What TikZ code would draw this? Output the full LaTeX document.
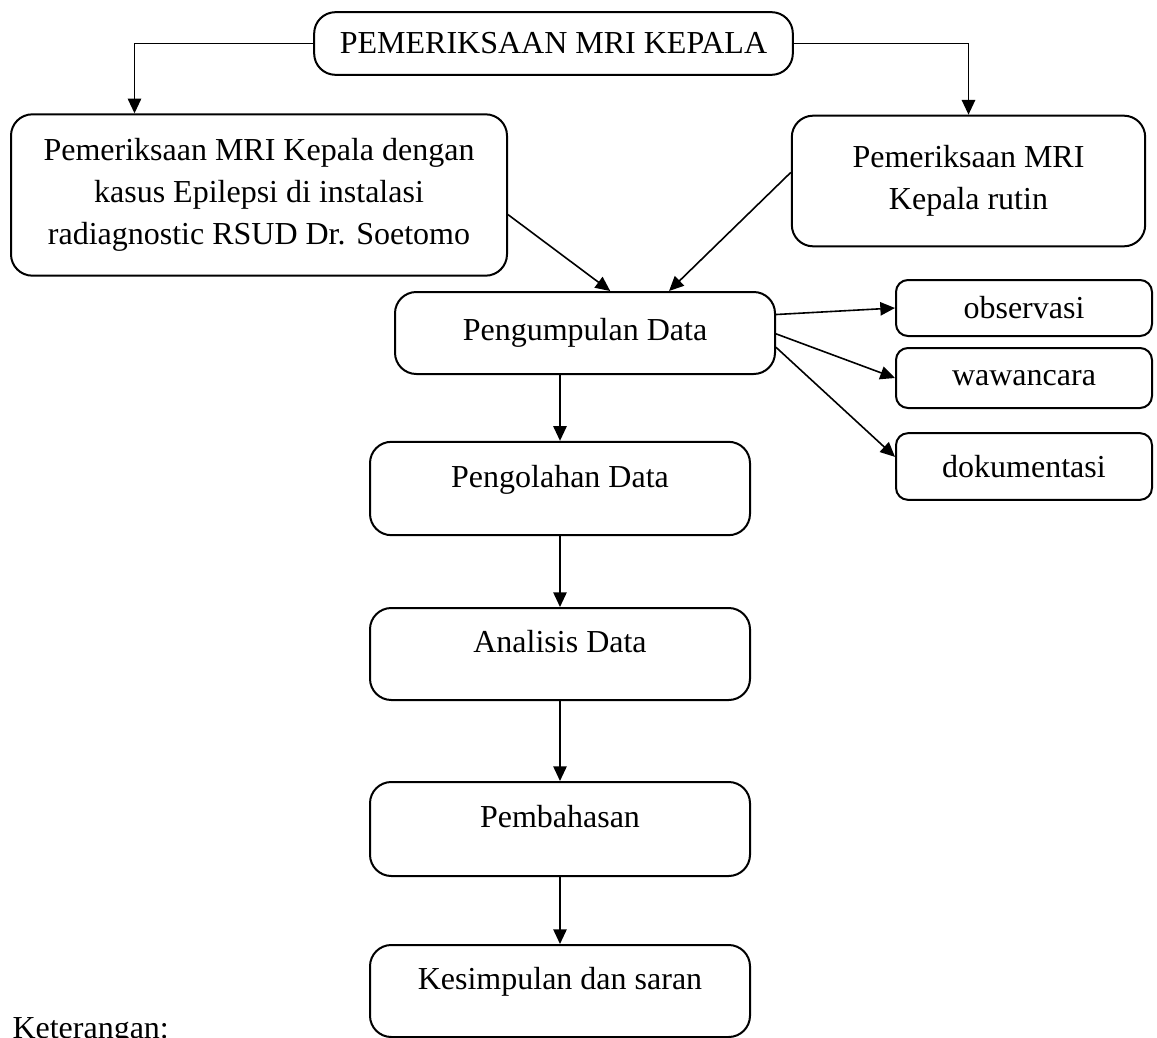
\documentclass[tikz,border=0pt]{standalone}
\usepackage{fontspec}
\setmainfont{Liberation Serif}
\usetikzlibrary{arrows.meta,calc}
\tikzset{every picture/.style={line width=0.75pt}}

\begin{document}
\begin{tikzpicture}[x=0.75pt,y=0.75pt,yscale=-1,xscale=1,
  kotak/.style={draw,rounded corners=16pt,line width=1.5pt,align=center,inner sep=0pt,
    font=\fontsize{24}{31.5}\selectfont},
  kecil/.style={kotak,rounded corners=9pt},
  naik/.style={text height=17pt,text depth=19pt},
  panah/.style={-{Triangle[length=11pt,width=10pt]},line width=1.2pt}]
%set diagram area, 1157 x 1038
\useasboundingbox (0,0) rectangle (1157,1038);

%Shape: Rounded Rect [judul]
\node[kotak,minimum width=359pt,minimum height=47pt] (judul) at (553.5,43.5) {PEMERIKSAAN MRI KEPALA};
%Shape: Rounded Rect [epilepsi]
\node[kotak,minimum width=372pt,minimum height=121pt] (epilepsi) at (259,195)
  {Pemeriksaan MRI Kepala dengan\\kasus Epilepsi di instalasi\\radiagnostic RSUD Dr. Soetomo};
%Shape: Rounded Rect [rutin]
\node[kotak,minimum width=265pt,minimum height=98pt] (rutin) at (968.5,181) {Pemeriksaan MRI\\Kepala rutin};
%Shape: Rounded Rect [kumpul]
\node[kotak,minimum width=285pt,minimum height=61.5pt] (kumpul) at (585,333) {Pengumpulan Data};
%Shape: Rounded Rect [observasi]
\node[kecil,minimum width=192pt,minimum height=42pt] (observasi) at (1024,308) {observasi};
%Shape: Rounded Rect [wawancara]
\node[kecil,minimum width=192pt,minimum height=45pt] (wawancara) at (1024,378) {wawancara};
%Shape: Rounded Rect [dokumentasi]
\node[kecil,minimum width=192pt,minimum height=50pt] (dokumentasi) at (1024,466.5) {dokumentasi};
%Shape: Rounded Rect [olah]
\node[kotak,naik,minimum width=285pt,minimum height=70pt] (olah) at (560,488.5) {Pengolahan Data};
%Shape: Rounded Rect [analisis]
\node[kotak,naik,minimum width=285pt,minimum height=69pt] (analisis) at (560,654) {Analisis Data};
%Shape: Rounded Rect [bahas]
\node[kotak,naik,minimum width=285pt,minimum height=70.5pt] (bahas) at (560,829) {Pembahasan};
%Shape: Rounded Rect [simpul]
\node[kotak,naik,minimum width=285pt,minimum height=69pt] (simpul) at (560,991) {Kesimpulan dan saran};

% Text Node
\node[anchor=base west,inner sep=0pt,font=\fontsize{24}{31.5}\selectfont] (ket) at (12,1038) {Keterangan:};

%Connectors
\draw[panah] (judul.west) -| ($(epilepsi.north west)!0.25!(epilepsi.north east)$);
\draw[panah] (judul.east) -| (rutin.north);
\draw[panah] ($(epilepsi.north east)!0.62!(epilepsi.south east)$) -- ($(kumpul.north west)!0.566!(kumpul.north east)$);
\draw[panah] ($(rutin.north west)!0.435!(rutin.south west)$) -- ($(kumpul.north west)!0.72!(kumpul.north east)$);
\draw[panah] ($(kumpul.north east)!0.28!(kumpul.south east)$) -- (observasi.west);
\draw[panah] ($(kumpul.north east)!0.51!(kumpul.south east)$) -- (wawancara.west);
\draw[panah] ($(kumpul.north east)!0.67!(kumpul.south east)$) -- ($(dokumentasi.north west)!0.36!(dokumentasi.south west)$);
\draw[panah] (kumpul.south -| olah.north) -- (olah.north);
\draw[panah] (olah) -- (analisis);
\draw[panah] (analisis) -- (bahas);
\draw[panah] (bahas) -- (simpul);

\end{tikzpicture}
\end{document}
